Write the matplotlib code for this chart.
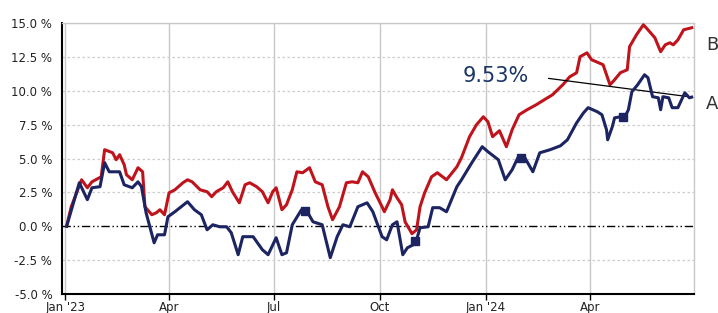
import numpy as np
import pandas as pd
import matplotlib
matplotlib.use("Agg")
import matplotlib.pyplot as plt
import matplotlib.dates as mdates

# cumulative return, percent
dates_b = ["2023-01-02", "2023-01-06", "2023-01-15", "2023-01-20", "2023-01-24", "2023-02-01",
           "2023-02-04", "2023-02-11", "2023-02-14", "2023-02-17", "2023-02-21", "2023-02-23",
           "2023-02-28", "2023-03-05", "2023-03-09", "2023-03-11", "2023-03-17", "2023-03-21",
           "2023-03-24", "2023-03-28", "2023-04-01", "2023-04-06", "2023-04-13", "2023-04-17",
           "2023-04-21", "2023-04-28", "2023-05-04", "2023-05-08", "2023-05-12", "2023-05-18",
           "2023-05-22", "2023-05-26", "2023-06-01", "2023-06-06", "2023-06-10", "2023-06-16",
           "2023-06-21", "2023-06-26", "2023-06-30", "2023-07-03", "2023-07-08", "2023-07-12",
           "2023-07-17", "2023-07-21", "2023-07-26", "2023-08-01", "2023-08-06", "2023-08-12",
           "2023-08-17", "2023-08-21", "2023-08-27", "2023-09-02", "2023-09-07", "2023-09-12",
           "2023-09-16", "2023-09-21", "2023-09-27", "2023-10-03", "2023-10-05", "2023-10-10",
           "2023-10-12", "2023-10-16", "2023-10-20", "2023-10-23", "2023-10-29", "2023-11-02",
           "2023-11-05", "2023-11-09", "2023-11-15", "2023-11-20", "2023-11-28", "2023-12-07",
           "2023-12-11", "2023-12-18", "2023-12-24", "2023-12-30", "2024-01-03", "2024-01-07",
           "2024-01-13", "2024-01-19", "2024-01-24", "2024-01-30", "2024-02-06", "2024-02-14",
           "2024-02-21", "2024-02-28", "2024-03-08", "2024-03-14", "2024-03-20", "2024-03-23",
           "2024-03-29", "2024-04-02", "2024-04-08", "2024-04-12", "2024-04-18", "2024-04-22",
           "2024-04-27", "2024-05-03", "2024-05-05", "2024-05-11", "2024-05-17", "2024-05-21",
           "2024-05-27", "2024-06-01", "2024-06-05", "2024-06-09", "2024-06-12", "2024-06-16",
           "2024-06-21", "2024-06-28"]
vals_b = [0.0, 1.44, 3.43, 2.84, 3.28, 3.65,
          5.65, 5.42, 4.91, 5.28, 4.54, 3.80,
          3.43, 4.32, 4.02, 1.44, 0.85, 1.00,
          1.22, 0.85, 2.47, 2.69, 3.21, 3.43,
          3.28, 2.69, 2.55, 2.18, 2.55, 2.84,
          3.28, 2.55, 1.73, 3.06, 3.21, 2.92,
          2.55, 1.73, 2.55, 2.84, 1.22, 1.59,
          2.69, 4.02, 3.95, 4.32, 3.28, 3.06,
          1.44, 0.48, 1.44, 3.21, 3.28, 3.21,
          4.02, 3.65, 2.47, 1.44, 1.07, 1.96,
          2.69, 2.10, 1.59, 0.33, -0.55, -0.26,
          1.44, 2.47, 3.65, 3.95, 3.43, 4.39,
          5.06, 6.61, 7.49, 8.08, 7.71, 6.61,
          7.05, 5.87, 7.12, 8.23, 8.60, 8.97,
          9.34, 9.70, 10.44, 11.03, 11.33, 12.51,
          12.80, 12.29, 12.07, 11.92, 10.44, 10.81,
          11.33, 11.55, 13.25, 14.13, 14.87, 14.50,
          13.91, 12.88, 13.39, 13.54, 13.39, 13.76,
          14.50, 14.65]

dates_a = ["2023-01-02", "2023-01-13", "2023-01-20", "2023-01-24", "2023-01-31", "2023-02-04",
           "2023-02-08", "2023-02-17", "2023-02-21", "2023-02-28", "2023-03-05", "2023-03-08",
           "2023-03-12", "2023-03-19", "2023-03-22", "2023-03-28", "2023-03-31", "2023-04-06",
           "2023-04-17", "2023-04-23", "2023-04-29", "2023-05-04", "2023-05-09", "2023-05-15",
           "2023-05-21", "2023-05-25", "2023-05-31", "2023-06-04", "2023-06-13", "2023-06-21",
           "2023-06-26", "2023-07-03", "2023-07-08", "2023-07-12", "2023-07-17", "2023-07-25",
           "2023-07-30", "2023-08-04", "2023-08-12", "2023-08-19", "2023-08-25", "2023-08-30",
           "2023-09-05", "2023-09-12", "2023-09-20", "2023-09-25", "2023-10-03", "2023-10-07",
           "2023-10-12", "2023-10-16", "2023-10-21", "2023-10-25", "2023-10-30", "2023-11-02",
           "2023-11-05", "2023-11-12", "2023-11-16", "2023-11-22", "2023-11-28", "2023-12-07",
           "2023-12-11", "2023-12-20", "2023-12-29", "2024-01-03", "2024-01-12", "2024-01-18",
           "2024-01-24", "2024-01-29", "2024-02-04", "2024-02-11", "2024-02-17", "2024-02-26",
           "2024-03-06", "2024-03-12", "2024-03-20", "2024-03-26", "2024-03-30", "2024-04-07",
           "2024-04-11", "2024-04-15", "2024-04-16", "2024-04-20", "2024-04-22", "2024-04-27",
           "2024-05-01", "2024-05-04", "2024-05-07", "2024-05-12", "2024-05-18", "2024-05-21",
           "2024-05-25", "2024-05-30", "2024-06-01", "2024-06-03", "2024-06-08", "2024-06-11",
           "2024-06-16", "2024-06-22", "2024-06-26", "2024-06-28"]
vals_a = [0.0, 3.21, 1.96, 2.84, 2.92, 4.69,
          4.02, 4.02, 3.06, 2.84, 3.28, 2.92,
          1.00, -1.22, -0.63, -0.63, 0.70, 1.07,
          1.81, 1.22, 0.85, -0.26, 0.11, -0.04,
          -0.04, -0.48, -2.10, -0.77, -0.77, -1.73,
          -2.10, -0.85, -2.10, -1.96, 0.11, 1.22,
          1.07, 0.33, 0.11, -2.32, -0.77, 0.11,
          -0.04, 1.44, 1.73, 1.07, -0.77, -1.00,
          0.11, 0.33, -2.10, -1.59, -1.37, -1.00,
          -0.11, -0.04, 1.37, 1.37, 1.07, 2.92,
          3.43, 4.69, 5.87, 5.50, 4.91, 3.43,
          4.17, 5.06, 5.06, 4.02, 5.42, 5.65,
          5.94, 6.38, 7.63, 8.37, 8.75, 8.45,
          8.23, 7.12, 6.38, 7.34, 8.00, 8.08,
          8.08, 8.60, 9.93, 10.44, 11.18, 10.96,
          9.56, 9.48, 8.60, 9.56, 9.48, 8.75,
          8.75, 9.85, 9.48, 9.53]

marker_dates = ["2023-07-28", "2023-11-01", "2024-02-01", "2024-04-29"]

y_ticks = [-5.0, -2.5, 0.0, 2.5, 5.0, 7.5, 10.0, 12.5, 15.0]
x_ticks = ["2023-01-01", "2023-04-01", "2023-07-01", "2023-10-01", "2024-01-01", "2024-04-01"]
x_labels = ["Jan '23", "Apr", "Jul", "Oct", "Jan '24", "Apr"]

red = "#c0141c"
navy = "#1c2462"

db = pd.to_datetime(dates_b)
da = pd.to_datetime(dates_a)
dm = pd.to_datetime(marker_dates)

fig = plt.figure(figsize=(7.18, 3.13), dpi=100)
ax = fig.add_axes([0.0864, 0.0607, 0.8802, 0.8658])

xt = pd.to_datetime(x_ticks)
for t in xt:
    ax.axvline(t, color="#c8c8c8", lw=1, zorder=0)
for v in y_ticks:
    if v != 0:
        ax.axhline(v, color="#cccccc", lw=0.9, ls=(0, (2, 2)), zorder=0)
ax.axhline(0, color="black", lw=1, ls=(0, (6, 2, 1, 2, 1, 2)), zorder=1)

ax.plot(db, vals_b, color=red, lw=2.2, zorder=3)
ax.plot(da, vals_a, color=navy, lw=2.2, zorder=4)

# square markers sitting on line A
ma = np.interp(mdates.date2num(dm), mdates.date2num(da), vals_a)
ax.plot(dm, ma, ls="none", marker="s", ms=6, color=navy, zorder=5)

ax.set_xlim(pd.Timestamp("2022-12-29"), pd.Timestamp("2024-06-30"))
ax.set_ylim(-5, 15)
ax.set_yticks(y_ticks)
ax.set_yticklabels([f"{v:.1f} %" for v in y_ticks])
ax.set_xticks(xt)
ax.set_xticklabels(x_labels)
ax.tick_params(axis="y", length=0, pad=7, labelsize=8.5, labelcolor="#222222")
ax.tick_params(axis="x", length=4, width=1, pad=1, labelsize=8.5, labelcolor="#222222")

for s in ["left", "bottom"]:
    ax.spines[s].set_color("black")
    ax.spines[s].set_linewidth(1.5)
for s in ["top", "right"]:
    ax.spines[s].set_color("#c8c8c8")
    ax.spines[s].set_linewidth(1)

ax.annotate(f"{vals_a[-1]:.2f}%", xy=(da[-1], vals_a[-1]),
            xytext=(pd.Timestamp("2024-01-10"), 11.1), ha="center", va="center",
            fontsize=15, color="#1a3566",
            arrowprops=dict(arrowstyle="-", color="black", lw=0.9,
                            relpos=(1, 0.5), shrinkA=12, shrinkB=0))

fig.text(706 / 718, 1 - 45 / 313, "B", fontsize=13, color="#333333", va="center", ha="left")
fig.text(706 / 718, 1 - 104 / 313, "A", fontsize=13, color="#333333", va="center", ha="left")

fig.savefig("out.png", dpi=100)
